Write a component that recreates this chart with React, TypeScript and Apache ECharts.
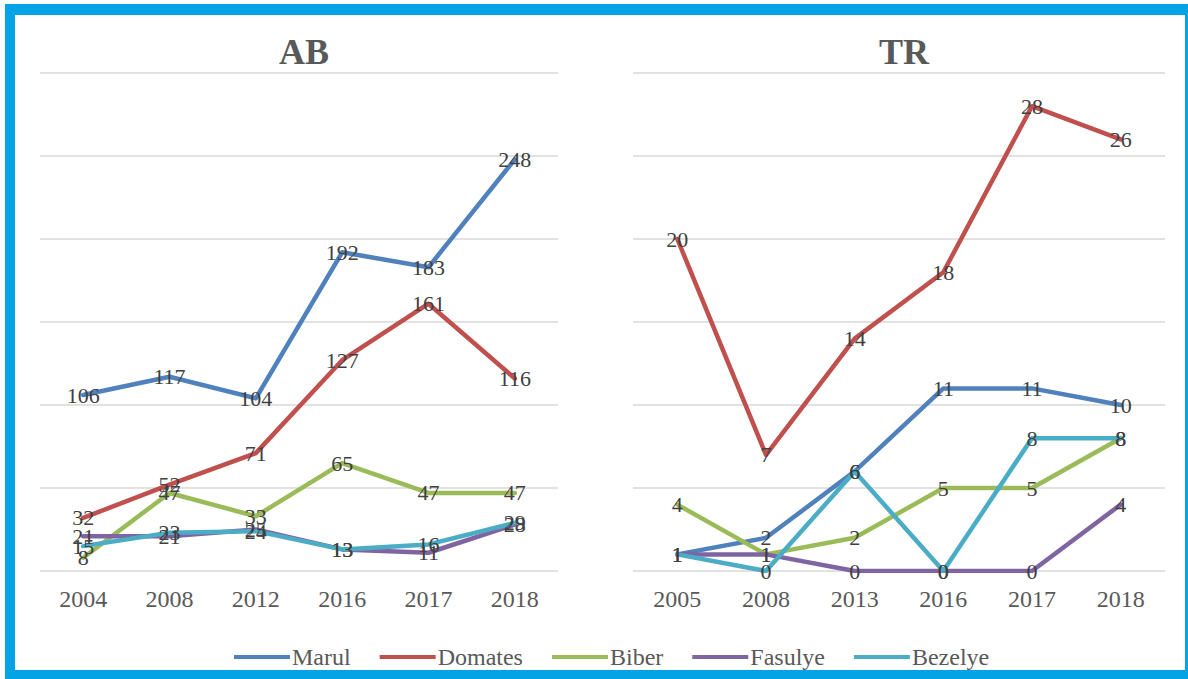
import React, { useEffect, useRef } from "react";
import * as echarts from "echarts";

const abYears = ["2004", "2008", "2012", "2016", "2017", "2018"];
const trYears = ["2005", "2008", "2013", "2016", "2017", "2018"];

const seriesNames = ["Marul", "Domates", "Biber", "Fasulye", "Bezelye"];
const seriesColors = ["#4F81BD", "#C0504D", "#9BBB59", "#8064A2", "#4BACC6"];

const abMarul = [106, 117, 104, 192, 183, 248];
const abDomates = [32, 52, 71, 127, 161, 116];
const abBiber = [8, 47, 33, 65, 47, 47];
const abFasulye = [21, 21, 25, 13, 11, 28];
const abBezelye = [15, 23, 24, 13, 16, 29];

const trMarul = [1, 2, 6, 11, 11, 10];
const trDomates = [20, 7, 14, 18, 28, 26];
const trBiber = [4, 1, 2, 5, 5, 8];
const trFasulye = [1, 1, 0, 0, 0, 4];
const trBezelye = [1, 0, 6, 0, 8, 8];

const abData = [abMarul, abDomates, abBiber, abFasulye, abBezelye];
const trData = [trMarul, trDomates, trBiber, trFasulye, trBezelye];

const FONT = "'Liberation Serif', 'Times New Roman', serif";

export default function App() {
  const ref = useRef<HTMLDivElement>(null);

  useEffect(() => {
    if (!ref.current) return;
    const chart = echarts.init(ref.current, null, { renderer: "svg" });

    const mkSeries = (data: number[][], idx: number) =>
      data.map((vals, i) => ({
        name: seriesNames[i],
        type: "line",
        xAxisIndex: idx,
        yAxisIndex: idx,
        data: vals,
        symbol: "circle",
        symbolSize: 1,
        showSymbol: true,
        lineStyle: { width: 4.5, color: seriesColors[i], join: "round", cap: "round" },
        itemStyle: { color: seriesColors[i] },
        label: {
          show: true,
          position: "inside",
          color: "#404040",
          fontFamily: FONT,
          fontSize: 22,
        },
        emphasis: { disabled: true },
      }));

    const xAxisBase = {
      type: "category",
      axisLine: { show: false },
      axisTick: { show: false },
      axisLabel: { color: "#595959", fontFamily: FONT, fontSize: 24, margin: 16 },
      splitLine: { show: false },
    };
    const yAxisBase = {
      type: "value",
      axisLine: { show: false },
      axisTick: { show: false },
      axisLabel: { show: false },
      splitLine: { show: true, lineStyle: { color: "#D9D9D9", width: 1.5 } },
    };

    chart.setOption({
      animation: false,
      backgroundColor: "#ffffff",
      color: seriesColors,
      title: [
        {
          text: "AB",
          left: 299,
          top: 29,
          textAlign: "center",
          textStyle: { fontFamily: FONT, fontSize: 36, fontWeight: "bold", color: "#595959" },
        },
        {
          text: "TR",
          left: 899,
          top: 29,
          textAlign: "center",
          textStyle: { fontFamily: FONT, fontSize: 36, fontWeight: "bold", color: "#595959" },
        },
      ],
      legend: {
        data: seriesNames,
        left: 229,
        top: 640,
        itemWidth: 56,
        itemHeight: 4,
        itemGap: 29,
        icon: "rect",
        textStyle: { fontFamily: FONT, fontSize: 24, color: "#595959", padding: [0, 0, 0, -3] },
      },
      grid: [
        { left: 40, top: 73, width: 518, height: 498 },
        { left: 633, top: 73, width: 532, height: 498 },
      ],
      xAxis: [
        { ...xAxisBase, gridIndex: 0, data: abYears },
        { ...xAxisBase, gridIndex: 1, data: trYears },
      ],
      yAxis: [
        { ...yAxisBase, gridIndex: 0, min: 0, max: 300, interval: 50 },
        { ...yAxisBase, gridIndex: 1, min: 0, max: 30, interval: 5 },
      ],
      series: [...mkSeries(abData, 0), ...mkSeries(trData, 1)],
    });

    return () => chart.dispose();
  }, []);

  return (
    <div style={{ position: "fixed", left: 0, top: 0, width: 1188, height: 679, background: "#fff" }}>
      <div ref={ref} style={{ position: "absolute", left: 0, top: 0, width: 1188, height: 679 }} />
      <div
        style={{
          position: "absolute",
          left: 5,
          top: 4,
          width: 1183,
          height: 675,
          boxSizing: "border-box",
          borderLeft: "10px solid #03A3E6",
          borderTop: "11px solid #03A3E6",
          borderRight: "3px solid #03A3E6",
          borderBottom: "9px solid #03A3E6",
          pointerEvents: "none",
        }}
      />
    </div>
  );
}
